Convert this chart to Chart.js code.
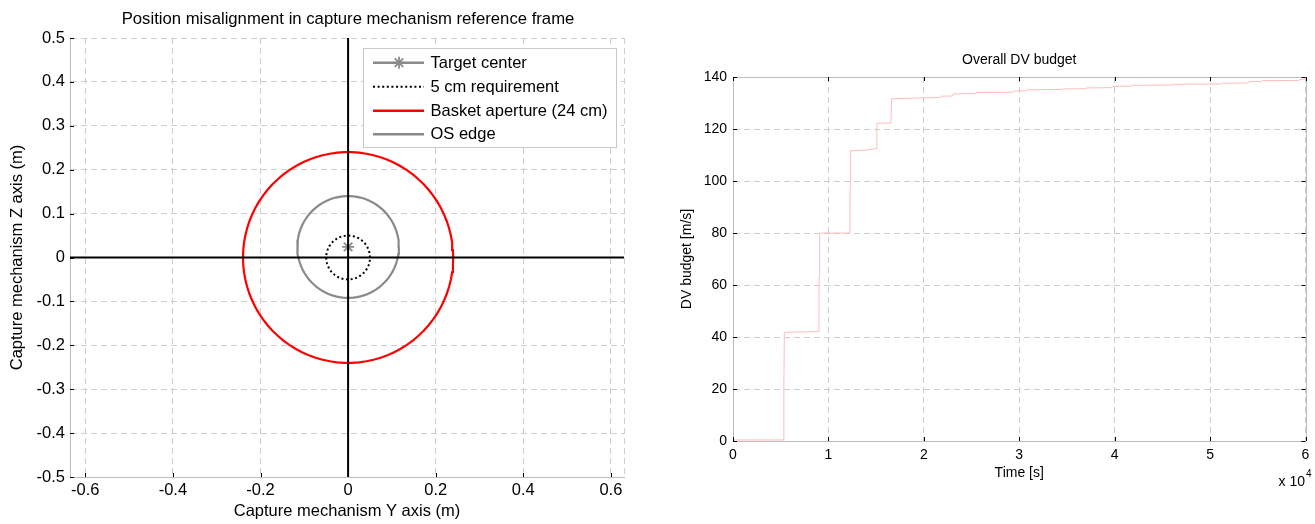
<!DOCTYPE html>
<html><head><meta charset="utf-8">
<script src="https://cdn.jsdelivr.net/npm/chart.js@4.4.0/dist/chart.umd.min.js"></script>
<style>
html,body{margin:0;padding:0;background:#fff;}
#wrapL{position:absolute;left:0;top:0;width:660px;height:524px;}
#wrapR{position:absolute;left:660px;top:0;width:655px;height:524px;}
</style></head><body>
<div id="wrapL"><canvas id="cL"></canvas></div>
<div id="wrapR"><canvas id="cR"></canvas></div>
<script>
// ---------- LEFT CHART DATA ----------
const leftTitle = 'Position misalignment in capture mechanism reference frame';
const leftXTitle = 'Capture mechanism Y axis (m)';
const leftYTitle = 'Capture mechanism Z axis (m)';
const leftXRange = [-0.635, 0.63];
const leftYRange = [-0.5, 0.5];
const leftXTicks = [-0.6, -0.4, -0.2, 0, 0.2, 0.4, 0.6];
const leftYTicks = [-0.5, -0.4, -0.3, -0.2, -0.1, 0, 0.1, 0.2, 0.3, 0.4, 0.5];
const targetLabel = 'Target center';
const targetY = [0];
const targetZ = [0.024];
const circleLabels = ['5 cm requirement', 'Basket aperture (24 cm)', 'OS edge'];
const circleRadius = [0.05, 0.24, 0.116];
const circleCenterY = [0, 0, 0];
const circleCenterZ = [0, 0, 0.024];

// ---------- RIGHT CHART DATA ----------
const rightTitle = 'Overall DV budget';
const rightXTitle = 'Time [s]';
const rightYTitle = 'DV budget [m/s]';
const rightXTicks = [0, 10000, 20000, 30000, 40000, 50000, 60000];
const rightYTicks = [0, 20, 40, 60, 80, 100, 120, 140];
const dvTime = [0, 5300, 5330, 5380, 9000, 9030, 9090, 12250, 12280, 12330, 14000, 15000, 15080, 16550, 16620,
  19900, 21700, 21800, 23000, 23100, 25400, 25500, 29300, 29400, 30700, 30800, 34500, 34600, 37000, 37100,
  39700, 39800, 41800, 41900, 46000, 46100, 51200, 51300, 54000, 54100, 55400, 55500, 59300, 59400, 60000];
const dvValue = [0.4, 0.4, 20, 41.8, 42.1, 63, 80, 80, 98, 111.6, 111.9, 112.5, 122.2, 122.3, 131.6,
  132.0, 132.1, 132.6, 132.7, 133.5, 133.6, 134.0, 134.1, 134.6, 134.7, 135.1, 135.2, 135.4, 135.5, 135.8,
  135.9, 136.4, 136.5, 136.8, 136.9, 137.2, 137.3, 137.6, 137.7, 138.2, 138.3, 138.6, 138.7, 139.0, 139.2];

// ---------- helpers ----------
const FONT = "'Liberation Sans', Arial, Helvetica, sans-serif";
const GRID = '#cdcdcd';
const AXISC = '#bdbdbd';
const GREY = '#8a8a8a';
function circlePoints(cy, cz, r) {
  const pts = [];
  for (let a = 0; a <= 360; a += 4) {
    const t = a * Math.PI / 180;
    pts.push({x: cy + r * Math.cos(t), y: cz + r * Math.sin(t)});
  }
  return pts;
}
function fmt(v) { const r = Math.round(v * 10) / 10; return String(r === 0 ? 0 : r); }

Chart.defaults.font.family = FONT;
Chart.defaults.color = '#000';
Chart.defaults.animation = false;

const centerTitle = {
  id: 'centerTitle',
  afterDraw(chart, args, opts) {
    const {ctx, chartArea: a} = chart;
    ctx.save();
    ctx.fillStyle = '#000';
    ctx.font = opts.size + 'px ' + FONT;
    ctx.textAlign = 'center';
    ctx.textBaseline = 'middle';
    ctx.fillText(opts.text, (a.left + a.right) / 2 + (opts.dx || 0), opts.y);
    ctx.restore();
  }
};

const innerTicks = {
  id: 'innerTicks',
  afterDraw(chart, args, opts) {
    const {ctx, chartArea: a, scales: {x, y}} = chart;
    ctx.save();
    ctx.strokeStyle = '#000';
    ctx.lineWidth = 1;
    ctx.beginPath();
    x.ticks.forEach(t => {
      const px = Math.round(x.getPixelForValue(t.value)) + 0.5;
      ctx.moveTo(px, a.bottom); ctx.lineTo(px, a.bottom - 4);
      if (opts.box) { ctx.moveTo(px, a.top); ctx.lineTo(px, a.top + 4); }
    });
    y.ticks.forEach(t => {
      const py = Math.round(y.getPixelForValue(t.value)) + 0.5;
      ctx.moveTo(a.left, py); ctx.lineTo(a.left + 4, py);
      if (opts.box) { ctx.moveTo(a.right, py); ctx.lineTo(a.right - 4, py); }
    });
    ctx.stroke();
    ctx.restore();
  }
};

const frameLines = {
  id: 'frameLines',
  beforeDatasetsDraw(chart, args, opts) {
    const {ctx, chartArea: a} = chart;
    ctx.save();
    ctx.strokeStyle = opts.color;
    ctx.lineWidth = 1;
    if (opts.dash) ctx.setLineDash(opts.dash);
    ctx.beginPath();
    const r = Math.round(a.right) + 0.5, t = Math.round(a.top) + 0.5;
    ctx.moveTo(r, a.top); ctx.lineTo(r, a.bottom);
    if (opts.top) { ctx.moveTo(a.left, t); ctx.lineTo(a.right, t); }
    ctx.stroke();
    ctx.restore();
  }
};

const boxLegend = {
  id: 'boxLegend',
  afterDraw(chart) {
    const {ctx} = chart;
    const bx = 363.5, by = 48.5, bw = 253, bh = 99;
    ctx.save();
    ctx.fillStyle = '#fff';
    ctx.strokeStyle = '#c8c8c8';
    ctx.lineWidth = 1;
    ctx.fillRect(bx, by, bw, bh);
    ctx.strokeRect(bx, by, bw, bh);
    const rows = [62.7, 86.7, 110.7, 134.2];
    const items = [
      {label: targetLabel, color: GREY, dash: [], w: 2.5, star: true},
      {label: circleLabels[0], color: '#000', dash: [2, 2.6], w: 2},
      {label: circleLabels[1], color: '#ff0000', dash: [], w: 2.5},
      {label: circleLabels[2], color: GREY, dash: [], w: 2.5}
    ];
    items.forEach((it, i) => {
      const yy = rows[i];
      ctx.strokeStyle = it.color;
      ctx.lineWidth = it.w;
      ctx.setLineDash(it.dash);
      ctx.beginPath(); ctx.moveTo(373, yy); ctx.lineTo(424, yy); ctx.stroke();
      ctx.setLineDash([]);
      if (it.star) {
        const cx = 399, r = 6;
        ctx.lineWidth = 1.8;
        ctx.beginPath();
        ctx.moveTo(cx - r, yy); ctx.lineTo(cx + r, yy);
        ctx.moveTo(cx, yy - r); ctx.lineTo(cx, yy + r);
        const d = r * 0.707;
        ctx.moveTo(cx - d, yy - d); ctx.lineTo(cx + d, yy + d);
        ctx.moveTo(cx - d, yy + d); ctx.lineTo(cx + d, yy - d);
        ctx.stroke();
      }
      ctx.fillStyle = '#000';
      ctx.font = '16.5px ' + FONT;
      ctx.textBaseline = 'middle';
      ctx.textAlign = 'left';
      ctx.fillText(it.label, 430.5, yy + 0.5);
    });
    ctx.restore();
  }
};

const expLabel = {
  id: 'expLabel',
  afterDraw(chart) {
    const {ctx} = chart;
    ctx.save();
    ctx.fillStyle = '#000';
    ctx.textBaseline = 'middle';
    ctx.textAlign = 'right';
    ctx.font = '14px ' + FONT;
    ctx.fillText('x 10', 645, 482);
    ctx.textAlign = 'left';
    ctx.font = '10px ' + FONT;
    ctx.fillText('4', 646, 474);
    ctx.restore();
  }
};

// ---------- LEFT CHART ----------
const circleStyles = [
  {color: '#000', width: 2, dash: [2, 2.6]},
  {color: '#ff0000', width: 2.2, dash: []},
  {color: GREY, width: 2.2, dash: []}
];
const leftDatasets = [
  {label: 'Y axis', data: [{x: 0, y: leftYRange[0]}, {x: 0, y: leftYRange[1]}], borderColor: '#000', borderWidth: 2},
  {label: 'Z axis', data: [{x: leftXRange[0], y: 0}, {x: leftXRange[1], y: 0}], borderColor: '#000', borderWidth: 2},
  {label: targetLabel, data: targetY.map((v, i) => ({x: v, y: targetZ[i]})), showLine: false,
    pointStyle: 'star', pointRadius: 6, pointBorderColor: GREY, pointBorderWidth: 1.8, borderColor: GREY}
];
circleLabels.forEach((lab, i) => {
  leftDatasets.push({
    label: lab,
    data: circlePoints(circleCenterY[i], circleCenterZ[i], circleRadius[i]),
    borderColor: circleStyles[i].color, borderWidth: circleStyles[i].width,
    borderDash: circleStyles[i].dash
  });
});

new Chart(document.getElementById('cL'), {
  type: 'scatter',
  data: {datasets: leftDatasets},
  options: {
    responsive: true, maintainAspectRatio: false, devicePixelRatio: 1,
    showLine: true,
    elements: {point: {radius: 0, hoverRadius: 0}, line: {tension: 0}},
    layout: {padding: {left: 0, right: 36, top: 38, bottom: 0}},
    plugins: {
      legend: {display: false}, tooltip: {enabled: false},
      title: {display: false},
      centerTitle: {text: leftTitle, size: 16.7, y: 19, dx: 1},
      innerTicks: {box: false},
      frameLines: {color: GRID, dash: [6, 4], top: false}
    },
    scales: {
      x: {
        type: 'linear', min: leftXRange[0], max: leftXRange[1],
        afterBuildTicks: s => { s.ticks = leftXTicks.map(v => ({value: v})); },
        afterFit: s => { s.height = 47; },
        ticks: {callback: v => fmt(v), font: {size: 16.5}, color: '#000', padding: 4, maxRotation: 0, autoSkip: false},
        grid: {color: GRID, drawTicks: false},
        border: {display: true, color: AXISC, dash: [6, 4]},
        title: {display: true, text: leftXTitle, font: {size: 16.5}, color: '#000', padding: {top: 0, bottom: 2.4}}
      },
      y: {
        type: 'linear', min: leftYRange[0], max: leftYRange[1],
        afterBuildTicks: s => { s.ticks = leftYTicks.map(v => ({value: v})); },
        afterFit: s => { s.width = 70; },
        ticks: {callback: v => fmt(v), font: {size: 16.5}, color: '#000', padding: 5, autoSkip: false},
        grid: {color: GRID, drawTicks: false},
        border: {display: true, color: AXISC, dash: [6, 4]},
        title: {display: true, text: leftYTitle, font: {size: 16.5}, color: '#000', padding: {top: 7.1, bottom: 0}}
      }
    }
  },
  plugins: [frameLines, innerTicks, boxLegend, centerTitle]
});

// ---------- RIGHT CHART ----------
new Chart(document.getElementById('cR'), {
  type: 'scatter',
  data: {datasets: [{
    label: rightTitle,
    data: dvTime.map((t, i) => ({x: t, y: dvValue[i]})),
    showLine: true, borderColor: 'rgb(255,188,188)', borderWidth: 1, pointRadius: 0
  }]},
  options: {
    responsive: true, maintainAspectRatio: false, devicePixelRatio: 1,
    elements: {point: {radius: 0, hoverRadius: 0}, line: {tension: 0}},
    layout: {padding: {left: 0, right: 8, top: 77, bottom: 0}},
    plugins: {
      legend: {display: false}, tooltip: {enabled: false},
      title: {display: false},
      centerTitle: {text: rightTitle, size: 14, y: 60, dx: 0},
      innerTicks: {box: true},
      frameLines: {color: AXISC, top: true}
    },
    scales: {
      x: {
        type: 'linear', min: 0, max: 60000,
        afterBuildTicks: s => { s.ticks = rightXTicks.map(v => ({value: v})); },
        afterFit: s => { s.height = 83; },
        ticks: {callback: v => String(v / 10000), font: {size: 14}, color: '#000', padding: 5.6, maxRotation: 0, autoSkip: false},
        grid: {color: GRID, drawTicks: false},
        border: {display: true, color: AXISC, dash: [6, 4]},
        title: {display: true, text: rightXTitle, font: {size: 14}, color: '#000', padding: {top: 0, bottom: 42.3}}
      },
      y: {
        type: 'linear', min: 0, max: 140,
        afterBuildTicks: s => { s.ticks = rightYTicks.map(v => ({value: v})); },
        afterFit: s => { s.width = 73; },
        ticks: {callback: v => String(v), font: {size: 14}, color: '#000', padding: 6, autoSkip: false},
        grid: {color: GRID, drawTicks: false},
        border: {display: true, color: AXISC, dash: [6, 4]},
        title: {display: true, text: rightYTitle, font: {size: 14}, color: '#000', padding: {top: 18.6, bottom: 0}}
      }
    }
  },
  plugins: [frameLines, innerTicks, expLabel, centerTitle]
});
</script>
</body></html>
